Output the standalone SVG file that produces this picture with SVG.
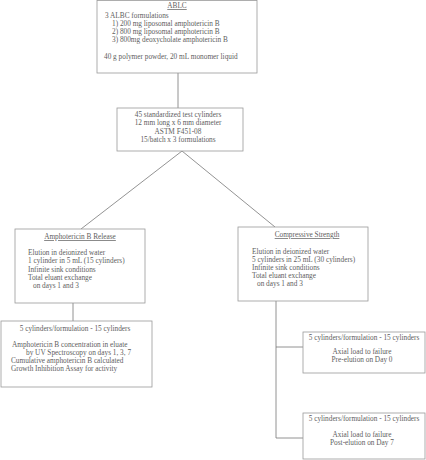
<svg xmlns="http://www.w3.org/2000/svg" width="426" height="460" viewBox="0 0 426 460">
<style>
.box{fill:#fff;stroke:#9a9a9a;stroke-width:0.8}
.ln{stroke:#777;stroke-width:0.8;fill:none}
text{font-family:"Liberation Serif","Times New Roman",serif;font-size:7.3px;fill:#606060}
.c{text-anchor:middle}
.u{text-decoration:underline}
</style>
<rect width="426" height="460" fill="#fff"/>
<g id="connectors">
<line class="ln" x1="178" y1="73" x2="178" y2="108"/>
<line class="ln" x1="182" y1="151" x2="81" y2="229"/>
<line class="ln" x1="182" y1="151" x2="275" y2="227"/>
<line class="ln" x1="73" y1="303" x2="73" y2="321"/>
<polyline class="ln" points="276,301 276,438 303,438"/>
<line class="ln" x1="276" y1="347" x2="303" y2="347"/>
</g>
<g id="ablc">
<rect class="box" x="97" y="0.5" width="160" height="72.5"/>
<text class="c u" x="177" y="8">ABLC</text>
<text x="105" y="18">3 ALBC formulations</text>
<text x="112" y="26">1) 200 mg liposomal amphotericin B</text>
<text x="112" y="34">2) 800 mg liposomal amphotericin B</text>
<text x="112" y="42">3) 800mg deoxycholate amphotericin B</text>
<text x="104" y="59">40 g polymer powder, 20 mL monomer liquid</text>
</g>
<g id="cylinders">
<rect class="box" x="117" y="108" width="126" height="43"/>
<text class="c" x="178" y="117">45 standardized test cylinders</text>
<text class="c" x="178" y="125">12 mm long x 6 mm diameter</text>
<text class="c" x="178" y="134">ASTM F451-08</text>
<text class="c" x="178" y="142">15/batch x 3 formulations</text>
</g>
<g id="release">
<rect class="box" x="15" y="229" width="130" height="74"/>
<text class="c u" x="80" y="239">Amphotericin B Release</text>
<text x="28" y="255">Elution in deionized water</text>
<text x="28" y="263">1 cylinder in 5 mL (15 cylinders)</text>
<text x="28" y="272">Infinite sink conditions</text>
<text x="28" y="280">Total eluant exchange</text>
<text x="33" y="288">on days 1 and 3</text>
</g>
<g id="compressive">
<rect class="box" x="238" y="227" width="130" height="74"/>
<text class="c u" x="307" y="237">Compressive Strength</text>
<text x="252" y="254">Elution in deionized water</text>
<text x="252" y="262">5 cylinders in 25 mL (30 cylinders)</text>
<text x="252" y="270">Infinite sink conditions</text>
<text x="252" y="278">Total eluant exchange</text>
<text x="257" y="286">on days 1 and 3</text>
</g>
<g id="release-results">
<rect class="box" x="1" y="321" width="151" height="66"/>
<text class="c" x="75" y="331">5 cylinders/formulation - 15 cylinders</text>
<text x="12" y="347">Amphotericin B concentration in eluate</text>
<text x="26" y="355">by UV Spectroscopy on days 1, 3, 7</text>
<text x="11" y="363">Cumulative amphotericin B calculated</text>
<text x="11" y="371">Growth Inhibition Assay for activity</text>
</g>
<g id="pre-elution">
<rect class="box" x="303" y="332" width="122" height="41"/>
<text class="c" x="364" y="340">5 cylinders/formulation - 15 cylinders</text>
<text class="c" x="362" y="354">Axial load to failure</text>
<text class="c" x="362" y="362">Pre-elution  on Day 0</text>
</g>
<g id="post-elution">
<rect class="box" x="303" y="413" width="122" height="46"/>
<text class="c" x="364" y="421">5 cylinders/formulation - 15 cylinders</text>
<text class="c" x="362" y="437">Axial load to failure</text>
<text class="c" x="362" y="445">Post-elution  on  Day 7</text>
</g>
</svg>
